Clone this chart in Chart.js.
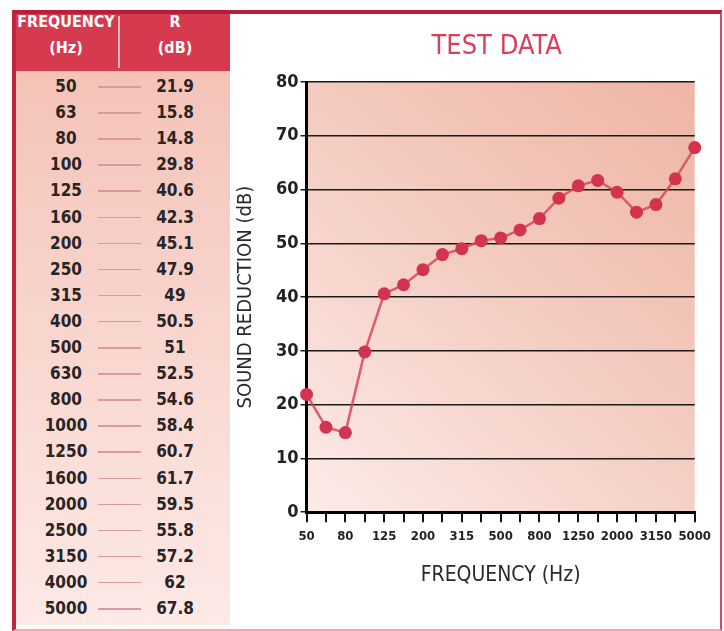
<!DOCTYPE html>
<html>
<head>
<meta charset="utf-8">
<script src="https://cdn.jsdelivr.net/npm/chart.js@4"></script>
<style>
  body { margin: 0; background: #fff; }
  #page { position: relative; width: 724px; height: 631px; overflow: hidden; background: #fff; }
  #frame { position: absolute; left: 12px; top: 10px; width: 704px; height: 615px;
    border-top: 4px solid #b2203e; border-left: 4px solid #c2263f;
    border-right: 2px solid #d64a64; border-bottom: 2px solid #f2a7b5; }
  #head { position: absolute; left: 16px; top: 14px; width: 214px; height: 57px; background: #d63a4f; }
  #head div { position: absolute; top: -5px; color: #fff; font-family: 'DejaVu Sans', sans-serif; font-weight: bold; font-size: 16px; font-stretch: condensed; text-align: center; line-height: 26px; }
  #divider { position: absolute; left: 118px; top: 16px; width: 2px; height: 52px; background: #f3b6bd; }
  #body { position: absolute; left: 16px; top: 71px; width: 214px; height: 554px;
    background: linear-gradient(to bottom, #f4c3b8, #fbe2dd 80%, #fde9e6); }
  .row { position: absolute; left: 0; width: 214px; height: 24px; font-family: 'DejaVu Sans', sans-serif; font-weight: bold; font-size: 17px; font-stretch: condensed; color: #2a2424; }
  .row .f { position: absolute; left: 20px; width: 60px; text-align: center; line-height: 24px; }
  .row .d { position: absolute; left: 82px; width: 43px; top: 12px; height: 1.5px; background: #d99a9c; }
  .row .r { position: absolute; left: 130px; width: 58px; text-align: center; line-height: 24px; }
  #wrap { position: absolute; left: 232px; top: 16px; width: 486px; height: 608px; }
</style>
</head>
<body>
<div id="page">
  <div id="frame"></div>
  <div id="head">
    <div style="left:0;width:100px;">FREQUENCY<br>(Hz)</div>
    <div style="left:128px;width:62px;">R<br>(dB)</div>
  </div>
  <div id="divider"></div>
  <div id="body"></div>
  <div id="wrap"><canvas id="testChart"></canvas></div>
</div>
<script>
const freqLabels = ["50", "63", "80", "100", "125", "160", "200", "250", "315", "400", "500",
  "630", "800", "1000", "1250", "1600", "2000", "2500", "3150", "4000", "5000"];
const rValues = [21.9, 15.8, 14.8, 29.8, 40.6, 42.3, 45.1, 47.9, 49, 50.5, 51,
  52.5, 54.6, 58.4, 60.7, 61.7, 59.5, 55.8, 57.2, 62, 67.8];
const yTicks = [0, 10, 20, 30, 40, 50, 60, 70, 80];
const chartTitle = "TEST DATA";

const FONT = "'DejaVu Sans', sans-serif";

// table on the left
const body = document.getElementById("body");
freqLabels.forEach(function (f, i) {
  const row = document.createElement("div");
  row.className = "row";
  row.style.top = (3 + i * 26.1) + "px";
  row.innerHTML = '<span class="f"></span><span class="d"></span><span class="r"></span>';
  row.querySelector(".f").textContent = f;
  row.querySelector(".r").textContent = String(rValues[i]);
  body.appendChild(row);
});

const plotBg = {
  id: "plotBg",
  beforeDraw(chart) {
    const a = chart.chartArea, ctx = chart.ctx;
    const g = ctx.createLinearGradient(a.left, a.bottom, a.right, a.top);
    g.addColorStop(0, "#fcebe8");
    g.addColorStop(0.5, "#f4cdc2");
    g.addColorStop(1, "#eeb5a5");
    ctx.save();
    ctx.fillStyle = g;
    ctx.fillRect(a.left, a.top, a.right - a.left, a.bottom - a.top);
    ctx.restore();
  },
  // title centred over the plot, not the canvas
  afterDraw(chart) {
    const a = chart.chartArea, ctx = chart.ctx;
    ctx.save();
    ctx.font = "normal normal condensed 27px " + FONT;
    ctx.fillStyle = "#d5405a";
    ctx.textAlign = "center";
    ctx.textBaseline = "middle";
    ctx.fillText(chartTitle, (a.left + a.right) / 2 - 4, 31);
    ctx.restore();
  }
};

new Chart("testChart", {
  type: "line",
  data: {
    labels: freqLabels,
    datasets: [{
      data: rValues,
      borderColor: "rgba(214,70,92,0.85)",
      backgroundColor: "#d3334f",
      borderWidth: 2.5,
      pointRadius: 6.5,
      pointBorderWidth: 0,
      pointBackgroundColor: "#d3334f",
      tension: 0,
      fill: false
    }]
  },
  options: {
    responsive: true,
    maintainAspectRatio: false,
    animation: false,
    layout: { padding: { left: 2, right: 8, top: 66, bottom: 32 } },
    plugins: {
      legend: { display: false },
      tooltip: { enabled: false },
      title: { display: false }
    },
    scales: {
      x: {
        offset: false,
        grid: { drawOnChartArea: false, drawTicks: true, tickLength: 10, color: "#111", lineWidth: 2 },
        border: { color: "#000", width: 3 },
        ticks: {
          autoSkip: false, maxRotation: 0, color: "#222", padding: 7,
          font: { family: FONT, size: 13, weight: "bold condensed" },
          callback: function (v, i) { return i % 2 === 0 ? freqLabels[i] : ""; }
        },
        title: {
          display: true, text: "FREQUENCY (Hz)", color: "#2a2a2a",
          font: { family: FONT, size: 21, weight: "normal condensed" }, padding: { top: 11 }
        }
      },
      y: {
        min: 0, max: 80,
        afterBuildTicks: function (s) { s.ticks = yTicks.map(function (v) { return { value: v }; }); },
        grid: { color: "#1a1a1a", lineWidth: 1.5, tickLength: 6 },
        border: { color: "#000", width: 3 },
        ticks: {
          color: "#222", padding: 2,
          font: { family: FONT, size: 18, weight: "bold condensed" }
        },
        title: {
          display: true, text: "SOUND REDUCTION (dB)", color: "#2a2a2a",
          font: { family: FONT, size: 20, weight: "normal condensed" }, padding: { top: 0, bottom: 16 }
        }
      }
    }
  },
  plugins: [plotBg]
});
</script>
</body>
</html>
